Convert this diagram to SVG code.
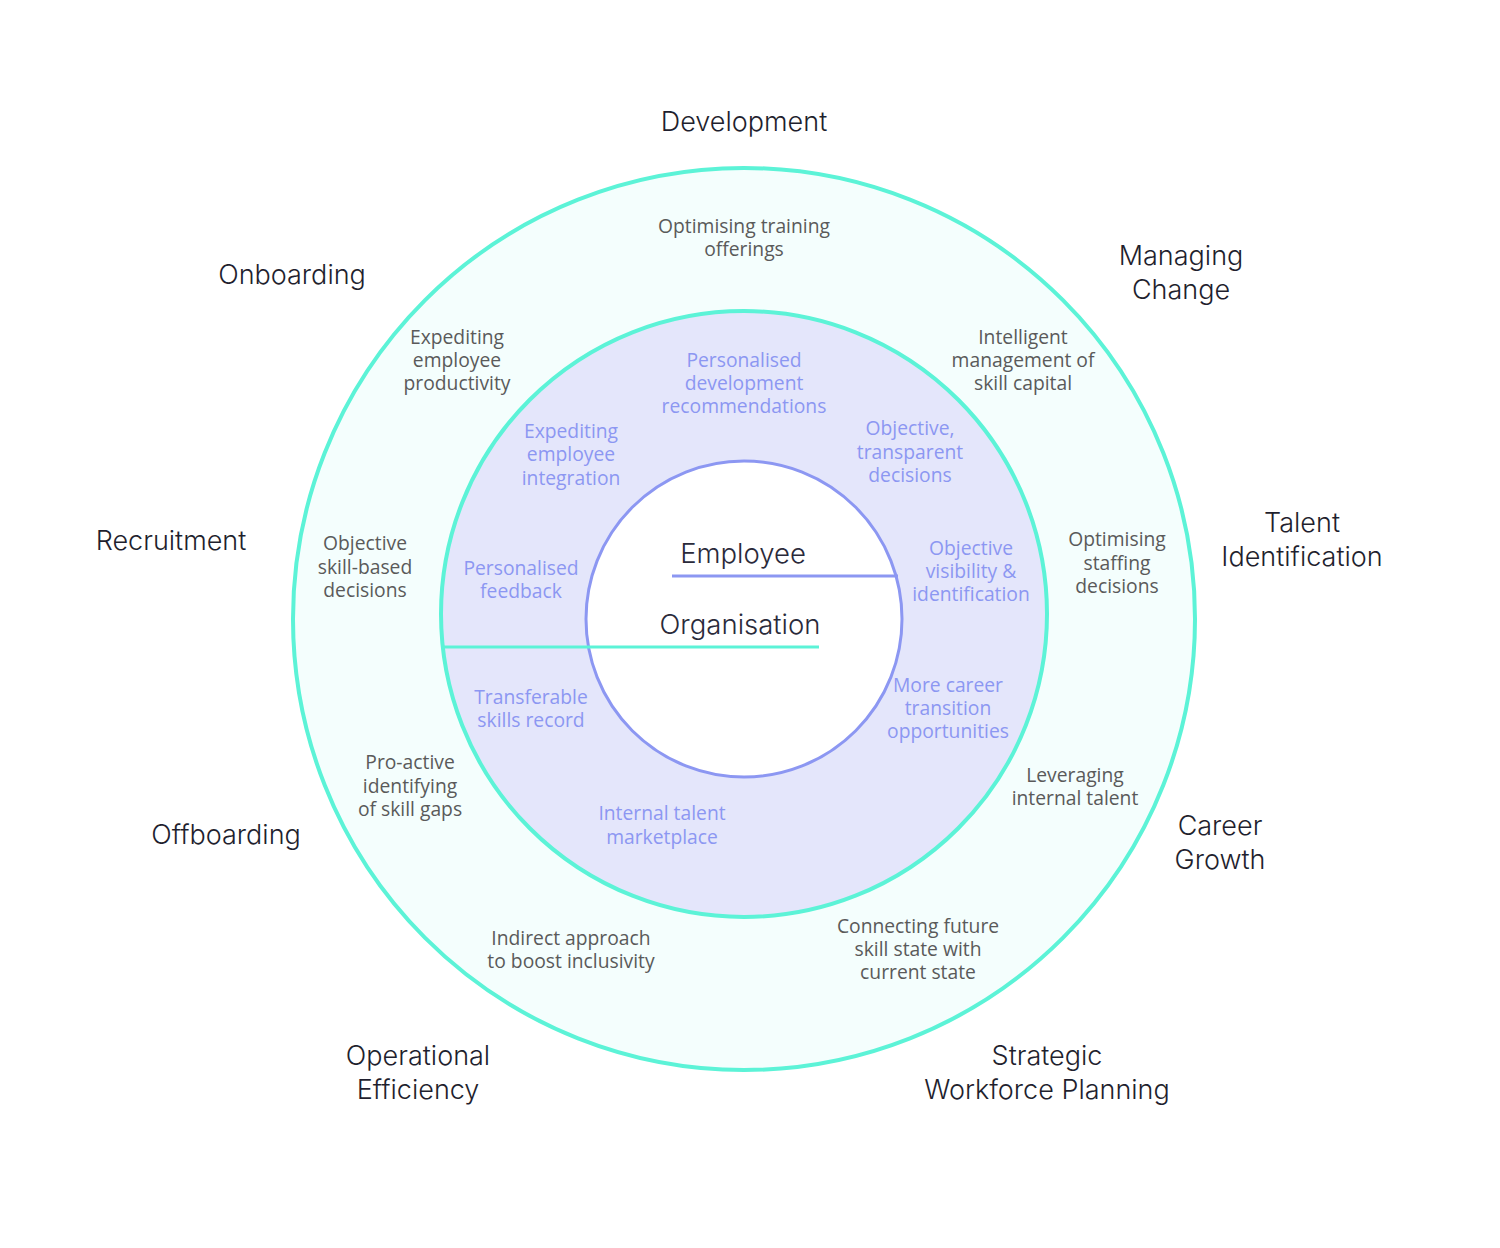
<svg xmlns="http://www.w3.org/2000/svg" width="1500" height="1248" viewBox="0 0 1500 1248">
<style>
.lbl{font-family:Inter,"Open Sans","Liberation Sans",sans-serif;font-weight:300;font-size:27px;fill:#1f1f2e;text-anchor:middle}
.ctr{font-family:Inter,"Open Sans","Liberation Sans",sans-serif;font-weight:300;font-size:27.5px;fill:#2a2a3a;text-anchor:middle}
.g{font-family:"Open Sans","Noto Sans","Liberation Sans",sans-serif;font-size:19.3px;fill:#5a5a5a;text-anchor:middle}
.p{font-family:"Open Sans","Noto Sans","Liberation Sans",sans-serif;font-size:19.3px;fill:#8c97f2;text-anchor:middle}
</style>
<rect width="1500" height="1248" fill="#ffffff"/>
<g id="outer-ring"><circle cx="744" cy="619" r="451" fill="#f4fefd" stroke="#5cf3d7" stroke-width="4"/></g>
<g id="middle-ring"><circle cx="744" cy="614" r="303" fill="#e4e6fb" stroke="#5cf3d7" stroke-width="4"/></g>
<g id="inner-circle"><circle cx="744" cy="619" r="158" fill="#ffffff" stroke="#8c97f2" stroke-width="3"/></g>
<g id="connectors">
<line x1="672" y1="576" x2="898" y2="576" stroke="#8c97f2" stroke-width="3"/>
<line x1="443" y1="647" x2="819" y2="647" stroke="#5cf3d7" stroke-width="3"/>
</g>
<g id="center-labels">
<text class="ctr" x="743" y="563">Employee</text>
<text class="ctr" x="740" y="634">Organisation</text>
</g>
<g id="outer-labels">
<text class="lbl" x="744" y="131">Development</text>
<text class="lbl" x="292" y="284">Onboarding</text>
<text class="lbl" x="1181" y="265">Managing</text>
<text class="lbl" x="1181" y="299">Change</text>
<text class="lbl" x="171" y="550">Recruitment</text>
<text class="lbl" x="1302" y="532">Talent</text>
<text class="lbl" x="1302" y="566">Identification</text>
<text class="lbl" x="226" y="844">Offboarding</text>
<text class="lbl" x="1220" y="835">Career</text>
<text class="lbl" x="1220" y="869">Growth</text>
<text class="lbl" x="418" y="1065">Operational</text>
<text class="lbl" x="418" y="1099">Efficiency</text>
<text class="lbl" x="1047" y="1065">Strategic</text>
<text class="lbl" x="1047" y="1099">Workforce Planning</text>
</g>
<g id="ring-text">
<text class="g" x="744" y="233">Optimising training</text>
<text class="g" x="744" y="256">offerings</text>
<text class="g" x="457" y="344">Expediting</text>
<text class="g" x="457" y="367">employee</text>
<text class="g" x="457" y="390">productivity</text>
<text class="g" x="1023" y="344">Intelligent</text>
<text class="g" x="1023" y="367">management of</text>
<text class="g" x="1023" y="390">skill capital</text>
<text class="g" x="365" y="550">Objective</text>
<text class="g" x="365" y="574">skill-based</text>
<text class="g" x="365" y="597">decisions</text>
<text class="g" x="1117" y="546">Optimising</text>
<text class="g" x="1117" y="570">staffing</text>
<text class="g" x="1117" y="593">decisions</text>
<text class="g" x="410" y="769">Pro-active</text>
<text class="g" x="410" y="793">identifying</text>
<text class="g" x="410" y="816">of skill gaps</text>
<text class="g" x="1075" y="782">Leveraging</text>
<text class="g" x="1075" y="805">internal talent</text>
<text class="g" x="571" y="945">Indirect approach</text>
<text class="g" x="571" y="968">to boost inclusivity</text>
<text class="g" x="918" y="933">Connecting future</text>
<text class="g" x="918" y="956">skill state with</text>
<text class="g" x="918" y="979">current state</text>
</g>
<g id="inner-ring-text">
<text class="p" x="744" y="367">Personalised</text>
<text class="p" x="744" y="390">development</text>
<text class="p" x="744" y="413">recommendations</text>
<text class="p" x="571" y="438">Expediting</text>
<text class="p" x="571" y="461">employee</text>
<text class="p" x="571" y="485">integration</text>
<text class="p" x="910" y="435">Objective,</text>
<text class="p" x="910" y="459">transparent</text>
<text class="p" x="910" y="482">decisions</text>
<text class="p" x="521" y="575">Personalised</text>
<text class="p" x="521" y="598">feedback</text>
<text class="p" x="971" y="555">Objective</text>
<text class="p" x="971" y="578">visibility &amp;</text>
<text class="p" x="971" y="601">identification</text>
<text class="p" x="531" y="704">Transferable</text>
<text class="p" x="531" y="727">skills record</text>
<text class="p" x="948" y="692">More career</text>
<text class="p" x="948" y="715">transition</text>
<text class="p" x="948" y="738">opportunities</text>
<text class="p" x="662" y="820">Internal talent</text>
<text class="p" x="662" y="844">marketplace</text>
</g>
</svg>
